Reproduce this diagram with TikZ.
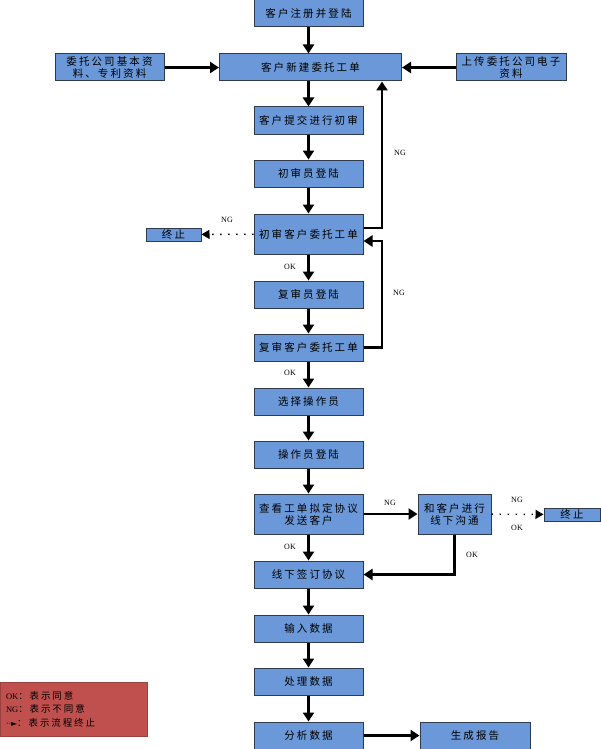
\documentclass[tikz,border=0pt]{standalone}
\usepackage{fontspec}
\setmainfont{Liberation Serif}
\newfontfamily\cjk[LetterSpace=20]{Noto Sans CJK SC}
\newfontfamily\symb{DejaVu Sans}
\usetikzlibrary{arrows.meta}
\definecolor{boxblue}{HTML}{6A98D8}
\definecolor{boxline}{HTML}{2F3A4F}
\definecolor{legendred}{HTML}{C0504D}
\tikzset{
  stepbox/.style={draw=boxline, fill=boxblue, line width=1pt, minimum width=109pt,
    minimum height=27pt, inner sep=0pt, align=center,
    font=\cjk\fontsize{10.5}{12}\selectfont},
  tallbox/.style={stepbox, minimum height=40pt},
  flow/.style={line width=2.5pt, -{Triangle[length=9pt,width=11pt]}},
  stopflow/.style={line width=1.4pt, dash pattern=on 1.4pt off 6.6pt,
    -{Triangle[length=8pt,width=9pt]}},
  lbl/.style={font=\fontsize{8}{9}\selectfont, inner sep=0pt}
}
\begin{document}
\begin{tikzpicture}[x=1pt,y=-1pt]
\useasboundingbox (0,0) rectangle (600,749);

\node[stepbox] (reg) at (308.5,13.5) {客户注册并登陆};
\node[stepbox, minimum width=182pt] (neworder) at (310.5,67.5) {客户新建委托工单};
\node[stepbox] (basic) at (109.5,67.5) {委托公司基本资\\料、专利资料};
\node[stepbox, minimum width=110pt] (upload) at (511,67.5) {上传委托公司电子\\资料};
\node[stepbox] (submit) at (308.5,120.5) {客户提交进行初审};
\node[stepbox] (firstlog) at (308.5,173.5) {初审员登陆};
\node[tallbox] (firstchk) at (308.5,234) {初审客户委托工单};
\node[stepbox, minimum width=55pt, minimum height=13pt] (stopa) at (173.5,234.5) {终止};
\node[stepbox] (secondlog) at (308.5,294.5) {复审员登陆};
\node[stepbox] (secondchk) at (308.5,347.5) {复审客户委托工单};
\node[stepbox] (choose) at (308.5,401.5) {选择操作员};
\node[stepbox] (oplog) at (308.5,454.5) {操作员登陆};
\node[tallbox] (draft) at (308.5,514) {查看工单拟定协议\\发送客户};
\node[tallbox, minimum width=73pt] (talk) at (454.5,514) {和客户进行\\线下沟通};
\node[stepbox, minimum width=56pt, minimum height=13pt] (stopb) at (572,514.5) {终止};
\node[stepbox] (sign) at (308.5,574.5) {线下签订协议};
\node[stepbox] (input) at (308.5,628.5) {输入数据};
\node[stepbox] (process) at (308.5,681.5) {处理数据};
\node[stepbox] (analyse) at (308.5,735.5) {分析数据};
\node[stepbox, minimum width=110pt] (report) at (475,735.5) {生成报告};

% legend
\node[draw=legendred!80!black, fill=legendred, minimum width=147pt, minimum height=54pt,
  text width=135pt, align=left, inner sep=0pt,
  font=\fontsize{8.5}{13.5}\selectfont] (legend) at (73.5,709)
  {OK{\cjk\fontsize{9.5}{13.5}\selectfont：表示同意}\\NG{\cjk\fontsize{9.5}{13.5}\selectfont：表示不同意}\\{\symb\fontsize{8}{13.5}\selectfont··►}{\cjk\fontsize{9.5}{13.5}\selectfont：表示流程终止}};

\coordinate (ngup) at (382,228);
\coordinate (ngloop) at (382,241);

\path[draw,flow] (reg) -- (reg |- neworder.north);
\path[draw,flow] (basic) -- (neworder);
\path[draw,flow] (upload) -- (neworder);
\path[draw,flow] (submit |- neworder.south) -- (submit);
\path[draw,flow] (submit) -- (firstlog);
\path[draw,flow] (firstlog) -- (firstchk);
\path[draw,flow] (firstchk.east |- ngup) -| (neworder.south -| ngup);
\path[draw,stopflow] (firstchk) -- (stopa);
\path[draw,flow] (firstchk) -- (secondlog);
\path[draw,flow] (secondlog) -- (secondchk);
\path[draw,flow] (secondchk.east) -| (ngloop) -- (firstchk.east |- ngloop);
\path[draw,flow] (secondchk) -- (choose);
\path[draw,flow] (choose) -- (oplog);
\path[draw,flow] (oplog) -- (draft);
\path[draw,flow] (draft) -- (talk);
\path[draw,stopflow] (talk) -- (stopb);
\path[draw,flow] (talk.south) |- (sign.east);
\path[draw,flow] (draft) -- (sign);
\path[draw,flow] (sign) -- (input);
\path[draw,flow] (input) -- (process);
\path[draw,flow] (process) -- (analyse);
\path[draw,flow] (analyse) -- (report);

\node[lbl] (nga) at (227,220) {NG};
\node[lbl] (ngb) at (400,153) {NG};
\node[lbl] (oka) at (290,267) {OK};
\node[lbl] (ngc) at (399,293) {NG};
\node[lbl] (okb) at (290,373) {OK};
\node[lbl] (ngd) at (390,503) {NG};
\node[lbl] (nge) at (517,500) {NG};
\node[lbl] (okc) at (517,528) {OK};
\node[lbl] (okd) at (472,555) {OK};
\node[lbl] (oke) at (290,547) {OK};
\end{tikzpicture}
\end{document}
